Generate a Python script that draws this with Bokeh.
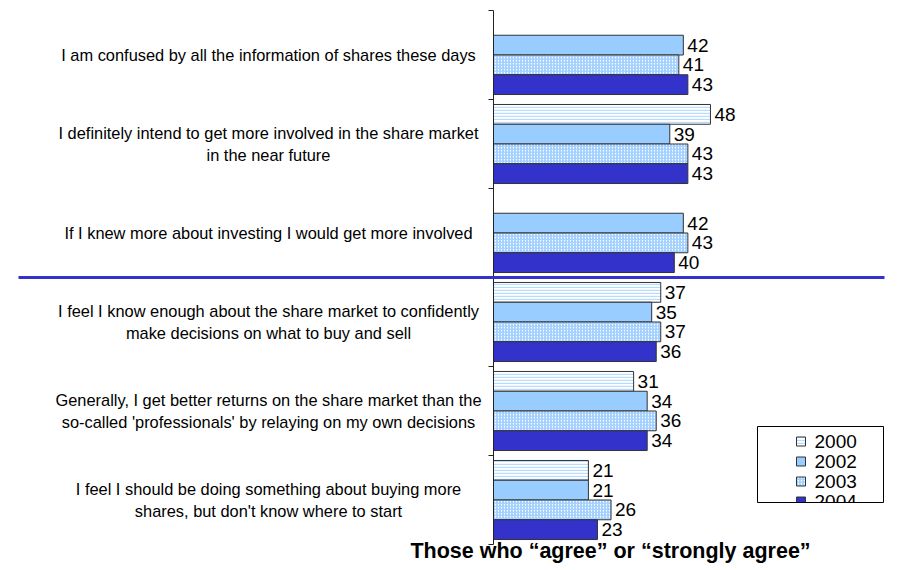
from bokeh.plotting import figure
from bokeh.models import Range1d, ColumnDataSource
from bokeh.core.properties import value
from bokeh.embed import file_html
from bokeh.resources import INLINE

# ---------------- data ----------------
categories = [
    "I am confused by all the information of shares these days",
    "I definitely intend to get more involved in the share market\nin the near future",
    "If I knew more about investing I would get more involved",
    "I feel I know enough about the share market to confidently\nmake decisions on what to buy and sell",
    "Generally, I get better returns on the share market than the\nso-called 'professionals' by relaying on my own decisions",
    "I feel I should be doing something about buying more\nshares, but don't know where to start",
]
years = ["2000", "2002", "2003", "2004"]
v2000 = [None, 48, None, 37, 31, 21]
v2002 = [42, 39, 42, 35, 34, 21]
v2003 = [41, 43, 43, 37, 36, 26]
v2004 = [43, 43, 40, 36, 34, 23]
series = [v2000, v2002, v2003, v2004]
title_text = "Those who \u201cagree\u201d or \u201cstrongly agree\u201d"

# ---------------- styles ----------------
FONT = "Liberation Sans"
styles = [
    dict(fill_color="white", hatch_pattern="horizontal_line", hatch_color="#b8dcff", hatch_scale=3, hatch_weight=1.4),
    dict(fill_color="#99ccff"),
    dict(fill_color="white", hatch_pattern="right_diagonal_line", hatch_color="#99ccff", hatch_scale=3, hatch_weight=1.2),
    dict(fill_color="#3333cc"),
]

W, H = 916, 570
OFF = 0            # page offset of the figure
PX = 4.52          # pixels per value unit
X0_IMG = 493       # page x of the value axis
ROW = 89           # pixels per category
Y0_IMG = 10        # page y of first category boundary

def dx(img_x):
    return (img_x - X0_IMG) / PX

def dy(img_y):
    return (img_y - Y0_IMG) / ROW

x_start = dx(OFF)
x_end = dx(OFF + W)
y_top = dy(OFF)
y_bot = dy(OFF + H)

p = figure(width=W, height=H, output_backend="svg", toolbar_location=None,
           x_range=Range1d(x_start, x_end), y_range=Range1d(y_bot, y_top),
           min_border=0, min_border_left=0, min_border_right=0,
           min_border_top=0, min_border_bottom=0)
p.axis.visible = False
p.grid.visible = False
p.outline_line_color = None
p.background_fill_color = "white"

n = len(categories)
BAR_H = 0.222

for j, (vals, st) in enumerate(zip(series, styles)):
    ys, rs, labs = [], [], []
    for k, v in enumerate(vals):
        if v is None:
            continue
        ys.append(k + 0.5 + (j - 1.5) * BAR_H)
        rs.append(v)
        labs.append(str(v))
    src = ColumnDataSource(dict(y=ys, right=rs, lab=labs))
    p.hbar(y="y", left=0, right="right", height=BAR_H, source=src,
           line_color="#333333", line_width=1, **st)
    p.text(x="right", y="y", text="lab", source=src, x_offset=4,
           text_font=value(FONT), text_font_size="19px", text_color="black",
           text_align="left", text_baseline="middle")

# category axis line and boundary ticks
p.segment(x0=[0], y0=[0], x1=[0], y1=[n], line_color="#222222", line_width=1)
p.segment(x0=[dx(488)] * (n + 1), y0=list(range(n + 1)), x1=[0] * (n + 1),
          y1=list(range(n + 1)), line_color="#222222", line_width=1)

# category labels
p.text(x=[dx(268)] * n, y=[k + 0.5 for k in range(n)], text=categories,
       text_font=value(FONT), text_font_size="16.4px", text_color="black",
       text_align="center", text_baseline="middle", text_line_height=1.2)

# separator line
p.segment(x0=[dx(18)], y0=[3], x1=[dx(884)], y1=[3], line_color="#3333cc", line_width=3)

# legend
p.quad(left=[dx(757)], right=[dx(883)], top=[dy(426)], bottom=[dy(502)],
       fill_color="white", line_color=None)
for j, (yr, st) in enumerate(zip(years, styles)):
    yy = dy(441 + 20 * j)
    p.rect(x=[dx(800.5)], y=[yy], width=9, height=9, width_units="screen",
           height_units="screen", line_color="#333333", line_width=1, **st)
    p.text(x=[dx(814)], y=[yy], text=[yr], text_font=value(FONT),
           text_font_size="19px", text_color="black", text_align="left",
           text_baseline="middle")
p.quad(left=[dx(757)], right=[dx(883)], top=[dy(502)], bottom=[dy(516)],
       fill_color="white", line_color=None)
p.quad(left=[dx(757)], right=[dx(883)], top=[dy(426)], bottom=[dy(502)],
       fill_color=None, line_color="black", line_width=1)

# title
p.text(x=[dx(610)], y=[dy(550)], text=[title_text], text_font=value(FONT),
       text_font_size="21.5px", text_font_style="bold", text_color="black",
       text_align="center", text_baseline="middle")

open("out.html", "w").write(file_html(p, INLINE))
